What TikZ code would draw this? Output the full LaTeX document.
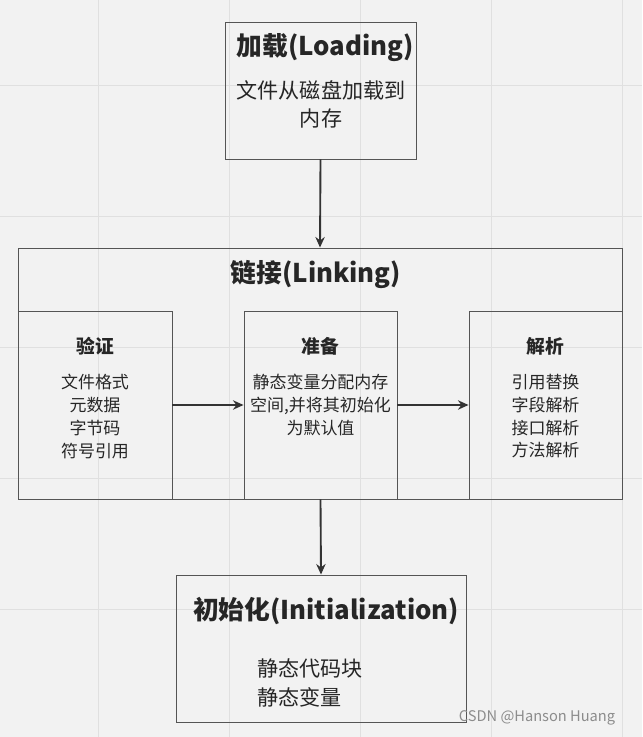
\documentclass[tikz,border=0pt]{standalone}
\usepackage{fontspec}
\setmainfont{Noto Sans CJK SC}
\usepackage{tikz}
\usetikzlibrary{positioning, calc, arrows.meta}
\definecolor{bgcol}{HTML}{F2F2F2}
\definecolor{gridcol}{HTML}{E0E0E0}
\definecolor{linecol}{HTML}{555555}
\begin{document}
\begin{tikzpicture}[x=0.03cm, y=-0.03cm]
  \tikzstyle{stage}=[draw=linecol, thick, inner sep=0pt]
  \tikzstyle{title}=[font=\bfseries\fontsize{22}{26}\selectfont, text=black!85]
  \tikzstyle{subtitle}=[font=\bfseries\fontsize{16}{20}\selectfont, text=black!85]
  \tikzstyle{body}=[font=\fontsize{14.5}{19.5}\selectfont, align=center, text=black!85]
  \tikzstyle{flow}=[draw=black!80, line width=1.6pt, -{Stealth[length=9pt, width=8pt]}]
  % background and grid
  \fill[bgcol] (0,0) rectangle (642,737);
  \useasboundingbox (0,0) rectangle (642,737);
  \foreach \gx in {98,229,360,491,622} { \draw[gridcol] (\gx,0) -- (\gx,737); }
  \foreach \gy in {85,216,347,478,609} { \draw[gridcol] (0,\gy) -- (642,\gy); }

  % loading
  \node (load) [stage, minimum width=5.73cm, minimum height=4.11cm] at (320.5,90.5) {};
  \node [title] at (325,48) {加载(Loading)};
  \node [body, font=\fontsize{18}{24}\selectfont] at (321,104) {文件从磁盘加载到\\内存};

  % linking
  \node (link) [stage, minimum width=18.12cm, minimum height=7.53cm] at (320,373.5) {};
  \node [title] at (316,275) {链接(Linking)};
  \node (verify) [stage, minimum width=4.62cm, minimum height=5.64cm] at (95,405) {};
  \node (prepare) [stage, minimum width=4.59cm, minimum height=5.64cm] at (320.5,405) {};
  \node (resolve) [stage, minimum width=4.59cm, minimum height=5.64cm] at (545.5,405) {};
  \node [subtitle] at (95,346) {验证};
  \node [subtitle] at (320.5,346) {准备};
  \node [subtitle] at (545.5,346) {解析};
  \node [body, anchor=north] at (95,370) {文件格式\\元数据\\字节码\\符号引用};
  \node [body, anchor=north] at (320.5,370) {静态变量分配内存\\空间,并将其初始化\\为默认值};
  \node [body, anchor=north] at (545.5,370) {引用替换\\字段解析\\接口解析\\方法解析};

  % initialization
  \node (init) [stage, minimum width=8.7cm, minimum height=4.41cm] at (321,648.5) {};
  \node [title] at (326,611) {初始化(Initialization)};
  \node [body, font=\fontsize{18}{24}\selectfont, align=left] at (310,683) {静态代码块\\静态变量};

  % arrows
  \draw[flow] (load.south) -- (link.north);
  \draw[flow] (verify.east) -- (prepare.west);
  \draw[flow] (prepare.east) -- (resolve.west);
  \draw[flow] (prepare.south) -- (init.north);

  \node [text=black!45, font=\fontsize{12.5}{15}\selectfont] at (537,718) {CSDN @Hanson Huang};
\end{tikzpicture}
\end{document}
